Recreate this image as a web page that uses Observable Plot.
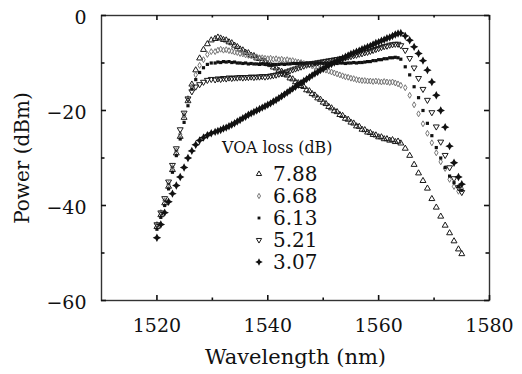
<!DOCTYPE html>
<html><head><meta charset="utf-8">
<script src="https://cdn.jsdelivr.net/npm/d3@7"></script>
<script src="https://cdn.jsdelivr.net/npm/@observablehq/plot@0.6"></script>
<style>
body{margin:0;background:#fff}
#wrap{position:relative;width:522px;height:374px;font-family:"DejaVu Serif",serif;color:#111}
#wrap svg{display:block}
.lg{position:absolute;white-space:nowrap;line-height:22px}
</style></head>
<body><div id="wrap"></div>
<script>
// ---- data ----
const wavelength = [
 1520.0,1520.7,1521.4,1522.1,1522.8,1523.5,1524.2,1524.9,1525.6,1526.3,1527.0,1527.7,1528.4,1529.1,1529.8,
 1530.5,1531.0,1531.5,1532.0,1532.5,1533.0,1533.5,1534.0,1534.5,1535.0,
 1535.5,1536.0,1536.5,1537.0,1537.5,1538.0,1538.5,1539.0,1539.5,1540.0,
 1540.5,1541.0,1541.5,1542.0,1542.5,1543.0,1543.5,1544.0,1544.5,1545.0,
 1545.5,1546.0,1546.5,1547.0,1547.5,1548.0,1548.5,1549.0,1549.5,1550.0,
 1550.5,1551.0,1551.5,1552.0,1552.5,1553.0,1553.5,1554.0,1554.5,1555.0,
 1555.5,1556.0,1556.5,1557.0,1557.5,1558.0,1558.5,1559.0,1559.5,1560.0,
 1560.5,1561.0,1561.5,1562.0,1562.5,1563.0,1563.5,1564.0,
 1564.8,1565.6,1566.4,1567.2,1568.0,1568.8,1569.6,1570.4,1571.2,1572.0,1572.8,1573.6,1574.4,1575.0
];
const loss788 = [
 -44.5,-42.0,-39.5,-36.0,-32.5,-29.0,-25.5,-21.5,-18.0,-14.5,-11.5,-9.0,-7.2,-6.0,-5.2,
 -4.9,-4.6,-4.8,-5.1,-5.2,-5.6,-5.8,-6.3,-6.6,-7.1,
 -7.3,-7.8,-7.9,-8.4,-8.5,-9.0,-9.1,-9.6,-9.7,-10.2,
 -10.4,-10.9,-11.1,-11.6,-11.8,-12.4,-12.6,-13.2,-13.4,-14.0,
 -14.2,-14.8,-15.0,-15.7,-15.9,-16.5,-16.8,-17.4,-17.7,-18.3,
 -18.6,-19.2,-19.5,-20.1,-20.3,-20.9,-21.1,-21.7,-21.9,-22.5,
 -22.7,-23.3,-23.4,-24.0,-24.1,-24.6,-24.7,-25.1,-25.2,-25.6,
 -25.6,-26.0,-26.0,-26.3,-26.2,-26.6,-26.5,-26.9,
 -28.0,-29.5,-31.4,-33.2,-34.8,-36.4,-38.6,-40.4,-42.3,-44.2,-45.8,-47.5,-49.2,-50.2
];
const loss668 = [
 -44.0,-41.5,-39.0,-35.5,-32.0,-28.5,-25.0,-21.0,-17.5,-15.0,-12.5,-10.5,-9.3,-8.2,-7.6,
 -7.6,-7.3,-7.1,-7.3,-7.2,-7.4,-7.5,-7.7,-7.8,-8.0,
 -8.1,-8.3,-8.4,-8.5,-8.7,-8.7,-8.9,-8.9,-9.0,-9.1,
 -9.0,-9.2,-9.1,-9.3,-9.2,-9.4,-9.3,-9.5,-9.5,-9.7,
 -9.8,-9.9,-10.1,-10.2,-10.4,-10.6,-10.8,-10.9,-11.1,-11.3,
 -11.5,-11.7,-11.9,-12.1,-12.3,-12.5,-12.7,-12.9,-13.0,-13.2,
 -13.3,-13.5,-13.6,-13.7,-13.7,-13.8,-13.8,-13.9,-13.8,-13.9,
 -14.0,-13.9,-14.0,-14.1,-14.0,-14.2,-14.4,-14.7,
 -15.2,-16.8,-18.8,-20.7,-22.8,-24.8,-26.8,-28.9,-30.8,-32.2,-34.5,-36.0,-37.0,-36.5
];
const loss613 = [
 -45.0,-42.5,-40.0,-36.5,-33.0,-29.5,-26.0,-22.5,-19.0,-15.5,-13.5,-12.0,-11.0,-10.3,-10.0,
 -10.0,-9.8,-9.9,-9.7,-9.8,-9.7,-9.9,-9.8,-10.0,-10.0,
 -10.1,-10.0,-10.2,-10.1,-10.2,-10.2,-10.3,-10.2,-10.3,-10.3,
 -10.4,-10.3,-10.3,-10.3,-10.2,-10.3,-10.2,-10.2,-10.1,-10.1,
 -10.1,-10.0,-10.1,-10.0,-10.0,-10.0,-10.1,-10.0,-10.0,-10.1,
 -10.0,-10.0,-10.1,-10.0,-10.1,-10.0,-10.0,-10.1,-10.0,-10.0,
 -9.9,-10.0,-9.9,-9.9,-9.8,-9.7,-9.7,-9.5,-9.5,-9.3,
 -9.3,-9.1,-9.1,-8.9,-8.9,-8.8,-8.9,-9.2,
 -10.8,-12.5,-15.0,-17.3,-20.0,-22.7,-25.3,-27.8,-30.0,-32.0,-33.8,-35.2,-36.0,-36.8
];
const loss521 = [
 -44.0,-41.5,-38.5,-35.0,-31.5,-28.0,-24.0,-20.5,-17.5,-16.0,-15.0,-14.5,-14.0,-13.6,-13.4,
 -13.5,-13.3,-13.4,-13.2,-13.3,-13.1,-13.2,-13.1,-13.1,-13.0,
 -13.1,-13.0,-13.0,-12.9,-13.0,-12.9,-12.9,-12.8,-12.9,-12.8,
 -12.7,-12.6,-12.5,-12.3,-12.2,-12.0,-11.8,-11.6,-11.4,-11.2,
 -11.0,-10.8,-10.6,-10.4,-10.2,-10.1,-10.0,-9.9,-9.8,-9.7,
 -9.6,-9.5,-9.4,-9.3,-9.2,-9.1,-9.0,-8.9,-8.7,-8.6,
 -8.4,-8.3,-8.1,-8.0,-7.8,-7.7,-7.5,-7.3,-7.1,-6.9,
 -6.7,-6.5,-6.4,-6.2,-6.1,-6.0,-6.0,-6.3,
 -7.3,-9.0,-11.0,-13.2,-15.5,-17.8,-20.4,-23.4,-26.6,-29.4,-32.0,-34.3,-36.2,-37.2
];
const loss307 = [
 -46.8,-44.0,-41.5,-39.2,-37.5,-35.8,-34.0,-32.0,-30.0,-28.5,-27.2,-26.3,-25.7,-25.2,-24.8,
 -24.5,-24.3,-24.1,-23.8,-23.6,-23.3,-23.0,-22.7,-22.3,-22.0,
 -21.6,-21.3,-20.9,-20.6,-20.3,-20.0,-19.7,-19.4,-19.1,-18.8,
 -18.5,-18.1,-17.8,-17.4,-17.0,-16.6,-16.2,-15.8,-15.4,-15.0,
 -14.6,-14.2,-13.8,-13.4,-13.0,-12.6,-12.2,-11.9,-11.5,-11.2,
 -10.8,-10.5,-10.2,-9.9,-9.6,-9.3,-9.0,-8.7,-8.4,-8.1,
 -7.9,-7.6,-7.4,-7.1,-6.9,-6.6,-6.4,-6.1,-5.8,-5.6,
 -5.3,-5.1,-4.8,-4.6,-4.3,-4.0,-3.8,-3.7,
 -4.3,-5.2,-6.6,-8.0,-9.5,-11.5,-14.0,-16.8,-20.0,-23.5,-27.5,-31.0,-34.0,-35.5
];
const seriesLabels = ["7.88", "6.68", "6.13", "5.21", "3.07"];
const xTicks = [1520, 1540, 1560, 1580];
const xMinor = [1530, 1550, 1570];
const yTicks = [0, -20, -40, -60];
const yMinor = [-10, -30, -50];

// ---- symbols ----
const S3 = Math.sqrt(3);
const triDown = {draw(c, size){ const y = -Math.sqrt(size/(S3*3)); c.moveTo(0, -y*2); c.lineTo(-S3*y, y); c.lineTo(S3*y, y); c.closePath(); }};
const star4 = {draw(c, size){ const r = Math.sqrt(size)*0.85, q = r*0.34;
  c.moveTo(0,-r); c.lineTo(q,-q); c.lineTo(r,0); c.lineTo(q,q); c.lineTo(0,r); c.lineTo(-q,q); c.lineTo(-r,0); c.lineTo(-q,-q); c.closePath(); }};

const styles = [
  {symbol: d3.symbolTriangle, r: 2.2, fill: "none", stroke: "#1a1a1a", strokeWidth: 1},
  {symbol: d3.symbolDiamond, r: 1.8, fill: "none", stroke: "#777", strokeWidth: 1},
  {symbol: d3.symbolSquare, r: 1.8, fill: "#111", stroke: "none", strokeWidth: 0},
  {symbol: triDown, r: 2.2, fill: "none", stroke: "#1a1a1a", strokeWidth: 1},
  {symbol: star4, r: 2.8, fill: "#111", stroke: "none", strokeWidth: 0}
];
const allSeries = [loss788, loss668, loss613, loss521, loss307];

const W = 522, H = 374, mL = 101, mR = 33, mT = 15, mB = 74;
const iW = W - mL - mR, iH = H - mT - mB;
const FONT = '"DejaVu Serif", serif';

const dotMarks = allSeries.map((ys, k) =>
  Plot.dot(wavelength.map((x, i) => ({x, y: ys[i]})), {x: "x", y: "y", ...styles[k]})
);

const tk = {stroke: "#111", strokeWidth: 1.6};
const chart = Plot.plot({
  width: W, height: H, marginLeft: mL, marginRight: mR, marginTop: mT, marginBottom: mB,
  style: {fontFamily: FONT, fontSize: "19px", color: "#111", background: "white"},
  x: {domain: [1510, 1580]},
  y: {domain: [-60, 0]},
  marks: [
    ...dotMarks,
    Plot.frame({stroke: "#333", strokeWidth: 1.4}),
    Plot.tickX(xTicks, {x: d => d, insetTop: iH - 5, ...tk}),
    Plot.tickX(xTicks, {x: d => d, insetBottom: iH - 5, ...tk}),
    Plot.tickX(xMinor, {x: d => d, insetTop: iH - 2.5, ...tk}),
    Plot.tickX(xMinor, {x: d => d, insetBottom: iH - 2.5, ...tk}),
    Plot.tickY(yTicks, {y: d => d, insetRight: iW - 5, ...tk}),
    Plot.tickY(yTicks, {y: d => d, insetLeft: iW - 5, ...tk}),
    Plot.tickY(yMinor, {y: d => d, insetRight: iW - 3.5, ...tk}),
    Plot.tickY(yMinor, {y: d => d, insetLeft: iW - 3.5, ...tk}),
    Plot.axisX({ticks: xTicks, tickSize: 0, tickPadding: 18, label: null, fontSize: 19, tickFormat: d => String(d)}),
    Plot.axisY({ticks: yTicks, tickSize: 0, tickPadding: 15, label: null, fontSize: 19, dy: 2}),
    Plot.text(["Wavelength (nm)"], {frameAnchor: "bottom", textAnchor: "middle", lineAnchor: "middle", dy: 57, fontSize: 21, fontFamily: FONT, fill: "#111"}),
    Plot.text(["Power (dBm)"], {frameAnchor: "left", textAnchor: "middle", lineAnchor: "middle", rotate: -90, dx: -79, fontSize: 20, fontFamily: FONT, fill: "#111"})
  ]
});
const wrap = document.getElementById("wrap");
wrap.appendChild(chart);

// ---- legend ----
function add(html, left, top, size) {
  const d = document.createElement("div");
  d.className = "lg"; d.style.left = left + "px"; d.style.top = top + "px"; d.style.fontSize = size + "px";
  d.innerHTML = html; wrap.appendChild(d); return d;
}
add("VOA loss (dB)", 222, 148 - 11, 15.8);
seriesLabels.forEach((lab, k) => {
  const cy = 174 + 22 * k;
  const s = styles[k];
  const p = d3.symbol(s.symbol, Math.PI * s.r * s.r * 0.8)();
  add(`<svg width="12" height="12" style="vertical-align:middle"><path transform="translate(6,6)" d="${p}" fill="${s.fill}" stroke="${s.stroke}" stroke-width="${s.strokeWidth}"/></svg>`, 253, cy - 6, 12)
    .style.lineHeight = "12px";
  add(lab, 273, cy - 11, 20);
});
</script>
</body></html>
